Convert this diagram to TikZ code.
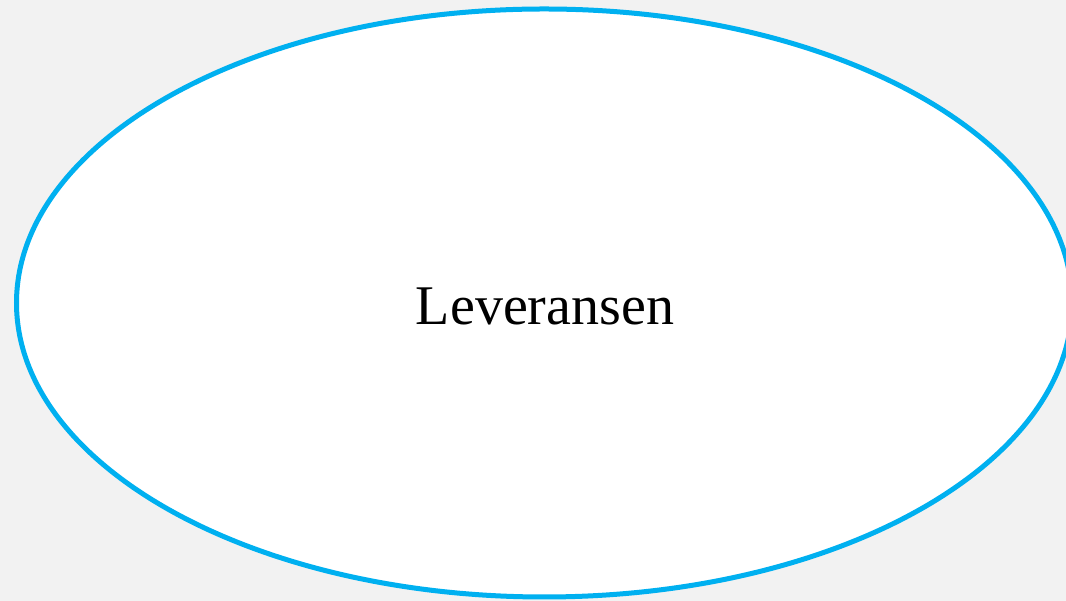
\documentclass[tikz,border=0pt]{standalone}
\usepackage{fontspec}
\setmainfont{Liberation Serif}
\usepackage{tikz}
\usetikzlibrary{shapes,positioning}
\usepackage{xcolor}
\definecolor{bgray}{HTML}{F2F2F2}
\definecolor{lblue}{HTML}{00B0F0}

\begin{document}
\begin{tikzpicture}[
  x=1pt, y=1pt,
  oval/.style={draw=lblue, fill=white, line width=5pt},
  lbl/.style={font=\fontsize{56}{60}\selectfont, inner sep=0pt}
]
  \fill[bgray] (0,0) rectangle (1066,601);
  \useasboundingbox (0,0) rectangle (1066,601);
  \draw[oval] (544.3,298) ellipse [x radius=527.8, y radius=294];
  \node[lbl, anchor=base] (lev) at (545,276) {Leveransen};
\end{tikzpicture}
\end{document}
